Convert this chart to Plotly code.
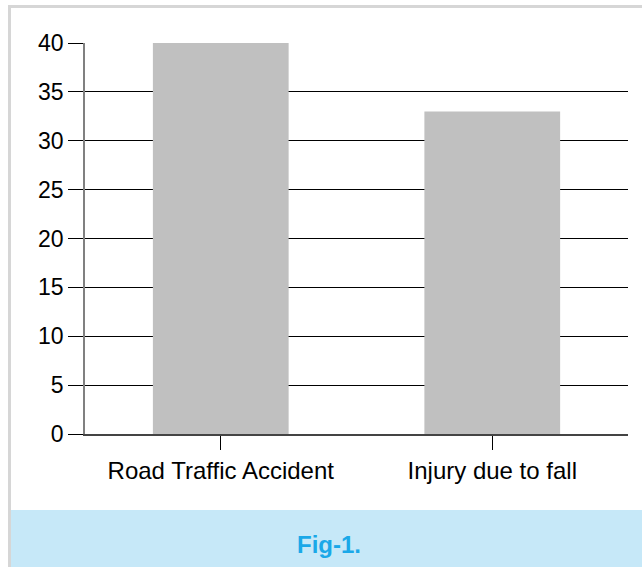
import plotly.graph_objects as go

categories = ["Road Traffic Accident", "Injury due to fall"]
values = [40, 33]
y_ticks = [0, 5, 10, 15, 20, 25, 30, 35, 40]
caption = "Fig-1."

W, H = 642, 567

def px_x(p):
    return p / W

def px_y(p):
    return (H - p) / H

fig = go.Figure()
fig.add_trace(go.Bar(
    x=categories, y=values,
    marker=dict(color="#c0c0c0", line=dict(width=0)),
    hoverinfo="x+y",
))

font = dict(family="Liberation Sans, Arial, sans-serif", size=23, color="#000000")
xfont = dict(family="Liberation Sans, Arial, sans-serif", size=24, color="#000000")

fig.update_layout(
    width=W, height=H,
    margin=dict(l=0, r=0, t=0, b=0, pad=0, autoexpand=False),
    paper_bgcolor="white",
    plot_bgcolor="white",
    bargap=0.5,
    showlegend=False,
    font=font,
    xaxis=dict(
        domain=[px_x(85), px_x(628)],
        automargin=False,
        showline=True, linecolor="#444444", linewidth=2,
        ticks="outside", ticklen=14, tickcolor="#000000", tickwidth=1,
        showgrid=False, zeroline=False,
        tickfont=xfont,
    ),
    yaxis=dict(
        domain=[px_y(434), px_y(43)],
        automargin=False,
        range=[0, 40],
        tickvals=y_ticks,
        showline=True, linecolor="#808080", linewidth=1.5,
        ticks="outside", ticklen=15, tickcolor="#000000", tickwidth=1,
        showgrid=True, gridcolor="#000000", gridwidth=1,
        zeroline=False,
        tickfont=font,
    ),
    shapes=[
        dict(type="rect", xref="paper", yref="paper",
             x0=px_x(11), x1=1, y0=0, y1=px_y(510),
             fillcolor="#c6e8f8", line=dict(width=0), layer="below"),
        dict(type="rect", xref="paper", yref="paper",
             x0=px_x(8), x1=px_x(11), y0=0, y1=px_y(5),
             fillcolor="#d6d6d6", line=dict(width=0), layer="below"),
        dict(type="rect", xref="paper", yref="paper",
             x0=px_x(8), x1=1, y0=px_y(8), y1=px_y(5),
             fillcolor="#d6d6d6", line=dict(width=0), layer="below"),
    ],
    annotations=[
        dict(text="<b>" + caption + "</b>", xref="paper", yref="paper",
             x=px_x(329), y=px_y(544), xanchor="center", yanchor="middle",
             showarrow=False,
             font=dict(family="Liberation Sans, Arial, sans-serif", size=24, color="#1aa8e8")),
    ],
)

fig.write_html("out.html", config={"displayModeBar": False},
               post_script="document.body.style.margin='0';")
